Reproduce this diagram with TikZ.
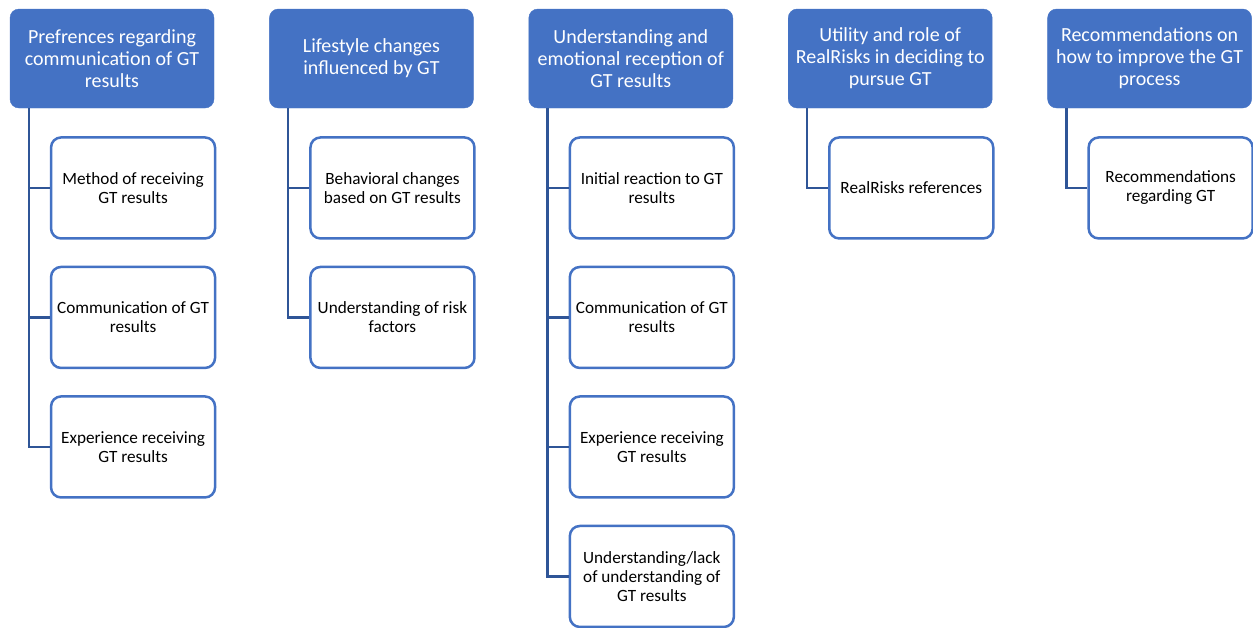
\documentclass[tikz,border=0pt]{standalone}
\usepackage{fontspec}
\setmainfont{Carlito}
\usepackage{xcolor}
\usetikzlibrary{positioning}

\definecolor{headblue}{HTML}{4472C4}
\definecolor{linkblue}{HTML}{2F5597}

\begin{document}
\begin{tikzpicture}[
  node distance=28pt and 55pt,
  head/.style={draw=headblue, fill=headblue, rectangle, rounded corners=9pt,
               minimum width=204pt, minimum height=99pt, align=center,
               text=white, font=\fontsize{20}{22}\selectfont, inner sep=2pt},
  leaf/.style={draw=headblue, line width=2.5pt, fill=white, rectangle,
               rounded corners=10pt, minimum width=164pt, minimum height=101pt,
               align=center, font=\fontsize{17.2}{19}\selectfont, inner sep=2pt},
  link/.style={draw=linkblue, line width=2.5pt},
]
\useasboundingbox (0,0) rectangle (1253pt,-627pt);

% top row
\node[head] (h1) at (112pt,-58.5pt) {Prefrences regarding\\communication of GT\\results};
\node[head, right=of h1] (h2) {Lifestyle changes\\influenced by GT};
\node[head, right=of h2] (h3) {Understanding and\\emotional reception of\\GT results};
\node[head, right=of h3] (h4) {Utility and role of\\RealRisks in deciding to\\pursue GT};
\node[head, right=of h4] (h5) {Recommendations on\\how to improve the GT\\process};

% column 1
\node[leaf, below=of h1.south west, anchor=north west, xshift=40pt] (c11) {Method of receiving\\GT results};
\node[leaf, below=26pt of c11] (c12) {Communication of GT\\results};
\node[leaf, below=26pt of c12] (c13) {Experience receiving\\GT results};

% column 2
\node[leaf, below=of h2.south west, anchor=north west, xshift=40pt] (c21) {Behavioral changes\\based on GT results};
\node[leaf, below=26pt of c21] (c22) {Understanding of risk\\factors};

% column 3
\node[leaf, below=of h3.south west, anchor=north west, xshift=40pt] (c31) {Initial reaction to GT\\results};
\node[leaf, below=26pt of c31] (c32) {Communication of GT\\results};
\node[leaf, below=26pt of c32] (c33) {Experience receiving\\GT results};
\node[leaf, below=26pt of c33] (c34) {Understanding/lack\\of understanding of\\GT results};

% column 4 and 5
\node[leaf, below=of h4.south west, anchor=north west, xshift=40pt] (c41) {RealRisks references};
\node[leaf, below=of h5.south west, anchor=north west, xshift=40pt] (c51) {Recommendations\\regarding GT};

% connectors
\foreach \h/\c in {h1/c11, h1/c12, h1/c13, h2/c21, h2/c22,
                   h3/c31, h3/c32, h3/c33, h3/c34, h4/c41, h5/c51}
  \draw[link] ([xshift=19pt]\h.south west) |- (\c.west);

\end{tikzpicture}
\end{document}
